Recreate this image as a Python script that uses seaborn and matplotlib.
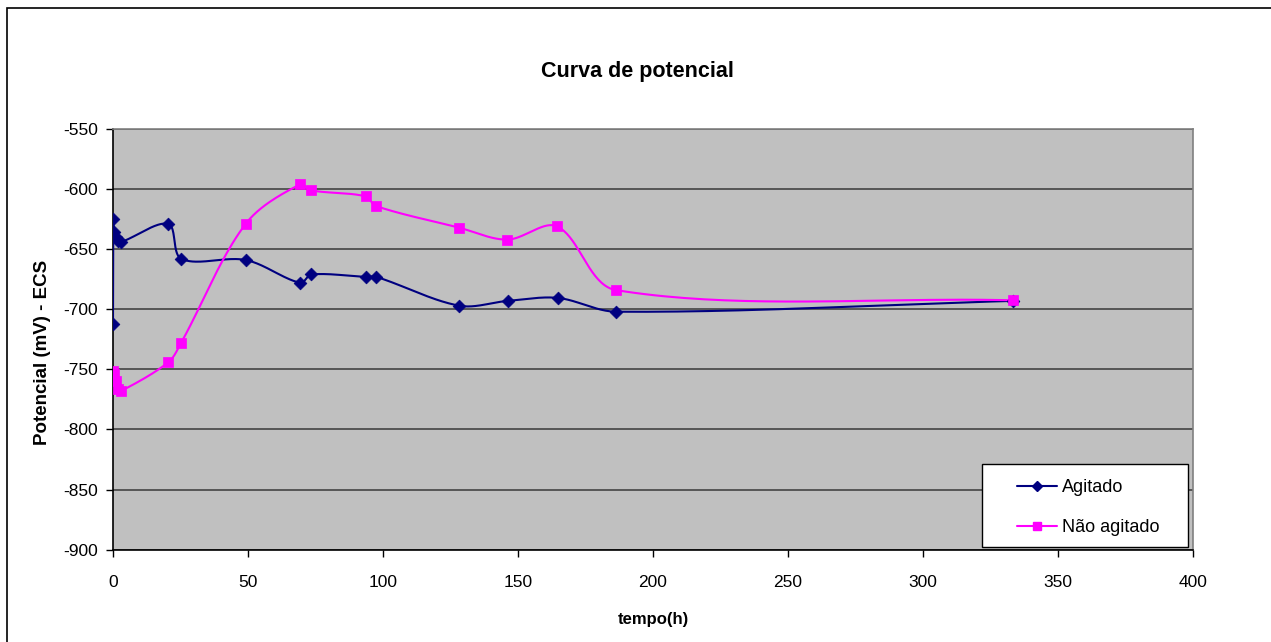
import numpy as np
import pandas as pd
import matplotlib
matplotlib.use("Agg")
import matplotlib.pyplot as plt
from matplotlib.lines import Line2D
from matplotlib.patches import Rectangle
import seaborn as sns

# ---------- données ----------
t_agit = [0, 0.1, 0.3, 1, 2, 3, 20.5, 25.3, 49.2, 69.4, 73.5, 93.7, 97.5,
          128.3, 146.2, 164.7, 186.4, 333.2]
e_agit = [-712, -625, -636, -640, -643, -644, -629, -658, -659, -678, -671,
          -673, -673, -697, -693, -690.5, -702, -693]

t_nagit = [0, 0.1, 0.3, 1, 2, 3, 20.5, 25.2, 49.1, 69.3, 73.3, 93.6, 97.3,
           128.1, 146.0, 164.5, 186.3, 333.2]
e_nagit = [-751, -757, -754, -760, -766, -768, -744, -728, -629, -596, -601,
           -606, -614, -632, -642, -631, -684, -692.5]

serie_names = ['Agitado', 'Não agitado']
colors = ['#000080', '#FF00FF']
markers = ['D', 's']
msizes = [6.5, 7]

yticks = [-900, -850, -800, -750, -700, -650, -600, -550]
xticks = [0, 50, 100, 150, 200, 250, 300, 350, 400]

# échelle approximative en pixels (pour le lissage)
PX_X = 2.7
PX_Y = 1.2


def smooth(x, y, n=40):
    # courbe lissée façon Excel (Bézier, tangentes normalisées par la corde)
    P = np.column_stack([np.asarray(x, float) * PX_X, np.asarray(y, float) * PX_Y])
    m = len(P)
    out = []
    for i in range(m - 1):
        p0 = P[max(i - 1, 0)]
        p1 = P[i]
        p2 = P[i + 1]
        p3 = P[min(i + 2, m - 1)]
        d01 = np.linalg.norm(p1 - p0)
        d12 = np.linalg.norm(p2 - p1)
        d23 = np.linalg.norm(p3 - p2)
        c1 = p1 + (p2 - p0) * (d12 / (d01 + d12 + 1e-9)) / 3.0 if d01 > 0 else p1 + (p2 - p1) / 3.0
        c2 = p2 - (p3 - p1) * (d12 / (d12 + d23 + 1e-9)) / 3.0 if d23 > 0 else p2 - (p2 - p1) / 3.0
        s = np.linspace(0, 1, n)[:, None]
        seg = ((1 - s) ** 3) * p1 + 3 * ((1 - s) ** 2) * s * c1 \
            + 3 * (1 - s) * s ** 2 * c2 + s ** 3 * p2
        out.append(seg if i == 0 else seg[1:])
    seg = np.vstack(out)
    return seg[:, 0] / PX_X, seg[:, 1] / PX_Y


sns.set_style("white")
plt.rcParams['font.family'] = ['Liberation Sans', 'DejaVu Sans']
plt.rcParams['axes.unicode_minus'] = False
plt.rcParams['text.color'] = 'black'
plt.rcParams['axes.labelcolor'] = 'black'
plt.rcParams['xtick.color'] = 'black'
plt.rcParams['ytick.color'] = 'black'

fig = plt.figure(figsize=(12.71, 6.42), dpi=100)
ax = fig.add_axes([0.0889, 0.1438, 0.8497, 0.6552])
ax.set_facecolor('#C0C0C0')

handles = []
for name, tx, ey, col, mk, ms in zip(serie_names, [t_agit, t_nagit],
                                     [e_agit, e_nagit], colors, markers, msizes):
    sx, sy = smooth(tx, ey)
    df_line = pd.DataFrame({'t': sx, 'e': sy})
    sns.lineplot(data=df_line, x='t', y='e', sort=False, estimator=None,
                 color=col, lw=1.5, ax=ax, zorder=3)
    df_pts = pd.DataFrame({'t': tx, 'e': ey})
    sns.scatterplot(data=df_pts, x='t', y='e', marker=mk, s=ms ** 2,
                    color=col, edgecolor=col, linewidth=0.5, ax=ax, zorder=4)
    handles.append(Line2D([], [], color=col, lw=1.5, marker=mk, ms=ms - 1,
                          label=name))

ax.set_xlim(0, 400)
ax.set_ylim(-900, -550)
ax.set_xticks(xticks)
ax.set_yticks(yticks)
ax.grid(axis='y', color='#4d4d4d', lw=1.3)
ax.grid(axis='x', visible=False)
ax.set_axisbelow(True)
ax.tick_params(axis='both', direction='out', length=5, width=1, color='black',
               labelcolor='black', labelsize=12.5, left=True, bottom=True)
ax.tick_params(axis='y', pad=6)
ax.tick_params(axis='x', pad=13)
for side in ['left', 'bottom']:
    ax.spines[side].set_color('black')
    ax.spines[side].set_linewidth(1.2)
for side in ['top', 'right']:
    ax.spines[side].set_color('#808080')
    ax.spines[side].set_linewidth(1.2)

ax.set_xlabel('tempo(h)', fontsize=12, fontweight='bold', labelpad=16)
ax.set_ylabel('Potencial (mV) - ECS', fontsize=13.5, fontweight='bold')
ax.yaxis.set_label_coords(-0.0575, 0.468)
fig.text(0.5015, 0.889, 'Curva de potencial', ha='center', va='center',
         fontsize=15.5, fontweight='bold')

# boîte de légende (style Excel)
ax.add_patch(Rectangle((0.8046, 0.0064), 0.9954 - 0.8046, 0.2037 - 0.0064,
                       transform=ax.transAxes, facecolor='white',
                       edgecolor='black', lw=1.0, zorder=5))
leg = ax.legend(handles=handles, loc='center left', bbox_to_anchor=(0.837, 0.1005),
                fontsize=13, frameon=False, borderpad=0, labelspacing=1.27,
                handlelength=2.2, handletextpad=0.3, borderaxespad=0)
leg.set_zorder(6)

# cadre de la figure (Excel)
fig.patches.append(Rectangle((7 / 1271, -0.05), 1.2, 1 - 8 / 642 + 0.05,
                             transform=fig.transFigure, fill=False,
                             edgecolor='black', lw=1.2))

fig.savefig('out.png', dpi=100)
